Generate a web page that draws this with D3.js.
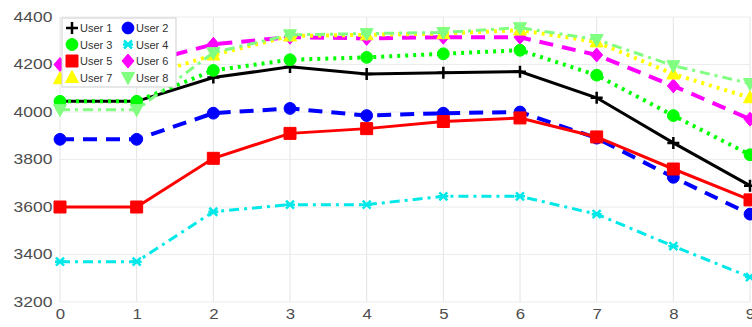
<!DOCTYPE html>
<html>
<head>
<meta charset="utf-8">
<script src="https://cdn.jsdelivr.net/npm/d3@7"></script>
<style>
  body { margin: 0; background: #fff; }
  svg { display: block; }
  .tick text { font-family: Arial, "Liberation Sans", sans-serif; fill: #4d4d4d; }
  .legend text { font-family: Arial, "Liberation Sans", sans-serif; font-size: 11px; fill: #333; }
</style>
</head>
<body>
<svg id="plate" width="752" height="327"></svg>
<script>
// x positions and tick labels
var steps = [0, 1, 2, 3, 4, 5, 6, 7, 8, 9];
var yTicks = [3200, 3400, 3600, 3800, 4000, 4200, 4400];
var names = ['User 1', 'User 2', 'User 3', 'User 4', 'User 5', 'User 6', 'User 7', 'User 8'];

// series values
var user1 = [4045, 4045, 4145, 4190, 4160, 4165, 4170, 4060, 3870, 3690];
var user2 = [3885, 3885, 3995, 4015, 3985, 3995, 4000, 3890, 3725, 3570];
var user3 = [4045, 4045, 4175, 4220, 4230, 4245, 4260, 4155, 3985, 3820];
var user4 = [3370, 3370, 3580, 3610, 3610, 3645, 3645, 3570, 3435, 3305];
var user5 = [3600, 3600, 3805, 3910, 3930, 3960, 3975, 3895, 3760, 3630];
var user6 = [4200, 4200, 4285, 4315, 4310, 4315, 4315, 4240, 4110, 3970];
var user7 = [4140, 4140, 4240, 4320, 4325, 4330, 4345, 4295, 4160, 4060];
var user8 = [4010, 4010, 4250, 4325, 4330, 4335, 4355, 4305, 4195, 4120];

var series = [user1, user2, user3, user4, user5, user6, user7, user8];

// look of each series: colour, dash, width, marker
var looks = [
    {color: '#000000', dash: null, width: 3, marker: 'plus'},
    {color: '#0000ff', dash: '14,9', width: 4, marker: 'circle'},
    {color: '#00ff00', dash: '3,5', width: 4, marker: 'circle'},
    {color: '#00e8e8', dash: '10,5,3,5', width: 3, marker: 'star'},
    {color: '#ff0000', dash: null, width: 3, marker: 'square'},
    {color: '#ff00ff', dash: '14,9', width: 4, marker: 'diamond'},
    {color: '#ffff00', dash: '3,5', width: 4, marker: 'triUp'},
    {color: '#80ff80', dash: '10,5,3,5', width: 3, marker: 'triDown'}
];

var svg = d3.select('#plate');
var margin = {top: 17, right: 2, bottom: 25, left: 60};
var width = 752 - margin.left - margin.right;
var height = 327 - margin.top - margin.bottom;

var x = d3.scaleLinear().domain([0, 9]).range([0, width]);
var y = d3.scaleLinear().domain([3200, 4400]).range([height, 0]);

var g = svg.append('g')
    .attr('transform', 'translate(' + margin.left + ',' + margin.top + ')');

// grid
g.append('g').selectAll('line.vg')
    .data(steps)
    .enter().append('line')
    .attr('x1', function(d) { return x(d); })
    .attr('x2', function(d) { return x(d); })
    .attr('y1', 0).attr('y2', height)
    .attr('stroke', '#e4e4e4').attr('stroke-width', 1);
g.append('g').selectAll('line.hg')
    .data(yTicks)
    .enter().append('line')
    .attr('x1', 0).attr('x2', width)
    .attr('y1', function(d) { return y(d); })
    .attr('y2', function(d) { return y(d); })
    .attr('stroke', '#ececec').attr('stroke-width', 1);

// axes
var xAxis = g.append('g')
    .attr('transform', 'translate(0,' + height + ')')
    .call(d3.axisBottom(x).tickValues(steps).tickFormat(d3.format('d')).tickSize(0).tickPadding(7));
xAxis.select('.domain').remove();
xAxis.selectAll('text').style('font-size', '14px')
    .attr('transform', 'scale(1.2,1)');

var yAxis = g.append('g')
    .call(d3.axisLeft(y).tickValues(yTicks).tickFormat(d3.format('d')).tickSize(0).tickPadding(0));
yAxis.select('.domain').remove();
yAxis.selectAll('text').style('font-size', '14px')
    .attr('text-anchor', 'end')
    .attr('x', -6)
    .attr('transform', 'scale(1.25,1)');

// markers
function markerPath(kind) {
    if (kind === 'plus') return 'M-6,0H6M0,-6V6';
    if (kind === 'star') return 'M-4,-4L4,4M-4,4L4,-4M-5,0H5';
    if (kind === 'circle') return d3.symbol(d3.symbolCircle, 110)();
    if (kind === 'square') return 'M-6,-6H6V6H-6Z';
    if (kind === 'diamond') return 'M0,-7L6,0L0,7L-6,0Z';
    if (kind === 'triUp') return 'M0,-7L6.5,5H-6.5Z';
    return 'M0,7L6.5,-5H-6.5Z';
}

var line = d3.line()
    .x(function(d, i) { return x(steps[i]); })
    .y(function(d) { return y(d); });

series.forEach(function(vals, k) {
    var look = looks[k];
    var sg = g.append('g').attr('class', 'series');
    sg.append('path')
        .datum(vals)
        .attr('d', line)
        .attr('fill', 'none')
        .attr('stroke', look.color)
        .attr('stroke-width', look.width)
        .attr('stroke-dasharray', look.dash);
    var open = look.marker === 'plus' || look.marker === 'star';
    sg.selectAll('path.mk')
        .data(vals)
        .enter().append('path')
        .attr('class', 'mk')
        .attr('transform', function(d, i) { return 'translate(' + x(steps[i]) + ',' + y(d) + ')'; })
        .attr('d', markerPath(look.marker))
        .attr('fill', open ? 'none' : look.color)
        .attr('stroke', look.color)
        .attr('stroke-width', open ? 2.5 : 1);
});

// legend
var legend = svg.append('g').attr('class', 'legend')
    .attr('transform', 'translate(62,18)');
legend.append('rect')
    .attr('width', 114).attr('height', 69)
    .attr('fill', '#fff').attr('stroke', '#cfcfcf');
names.forEach(function(name, k) {
    var col = k % 2, row = Math.floor(k / 2);
    var item = legend.append('g')
        .attr('transform', 'translate(' + (10 + col * 56) + ',' + (10 + row * 16.5) + ')');
    var look = looks[k];
    var open = look.marker === 'plus' || look.marker === 'star';
    item.append('path')
        .attr('d', markerPath(look.marker))
        .attr('fill', open ? 'none' : look.color)
        .attr('stroke', look.color)
        .attr('stroke-width', open ? 2.5 : 1);
    item.append('text')
        .attr('x', 8).attr('y', 4)
        .text(name);
});
</script>
</body>
</html>
